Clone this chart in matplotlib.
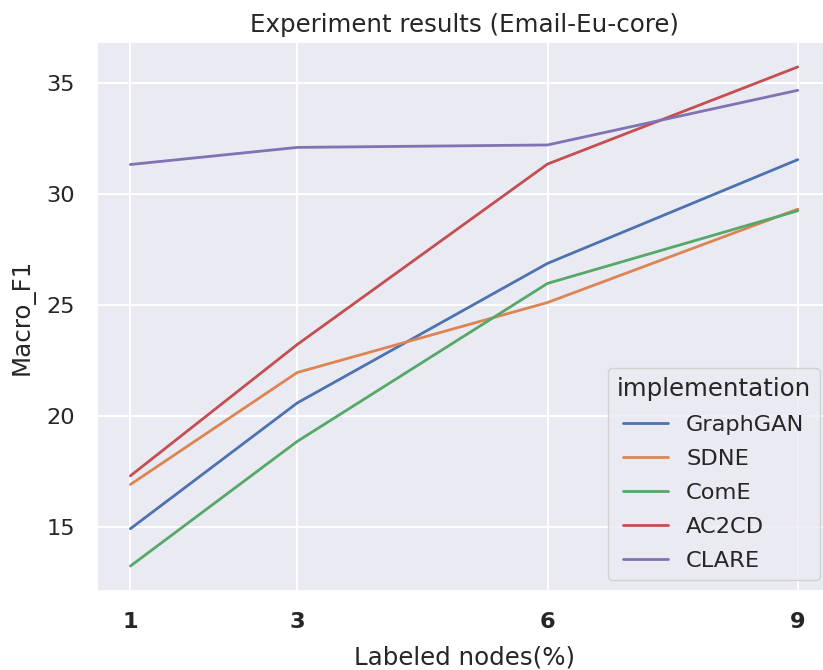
import pandas as pd
import seaborn as sns
import matplotlib
matplotlib.use("Agg")
import matplotlib.pyplot as plt

# labeled nodes (%) on the x axis
labeled = [1, 3, 6, 9]

# Macro_F1 per method
graphgan = [14.94, 20.6, 26.88, 31.55]
sdne = [16.93, 21.97, 25.12, 29.32]
come = [13.26, 18.87, 25.98, 29.25]
ac2cd = [17.32, 23.23, 31.35, 35.72]
clare = [31.33, 32.1, 32.21, 34.67]

methods = ["GraphGAN", "SDNE", "ComE", "AC2CD", "CLARE"]

rows = []
for name, vals in zip(methods, [graphgan, sdne, come, ac2cd, clare]):
    for x, v in zip(labeled, vals):
        rows.append({"Labeled nodes(%)": x, "Macro_F1": v, "implementation": name})
df = pd.DataFrame(rows)

sns.set_theme(style="darkgrid", font_scale=1.47,
              rc={"lines.linewidth": 2.0, "grid.linewidth": 1.4})

fig = plt.figure(figsize=(8.23, 6.70), dpi=100)
ax = fig.add_axes([0.1179, 0.1179, 0.892, 0.8194])
sns.lineplot(data=df, x="Labeled nodes(%)", y="Macro_F1",
             hue="implementation", ax=ax)
ax.set_xticks(labeled)
ax.tick_params(axis="x", pad=9)
ax.tick_params(axis="y", pad=10)
for t in ax.get_xticklabels():
    t.set_fontweight("bold")
ax.set_xlabel("Labeled nodes(%)", labelpad=10)
ax.set_ylabel("Macro_F1", labelpad=8)
ax.set_title("Experiment results (Email-Eu-core)", pad=7)
ax.legend(title="implementation", loc="lower right", labelspacing=0.62)

fig.savefig("out.png", dpi=100)
